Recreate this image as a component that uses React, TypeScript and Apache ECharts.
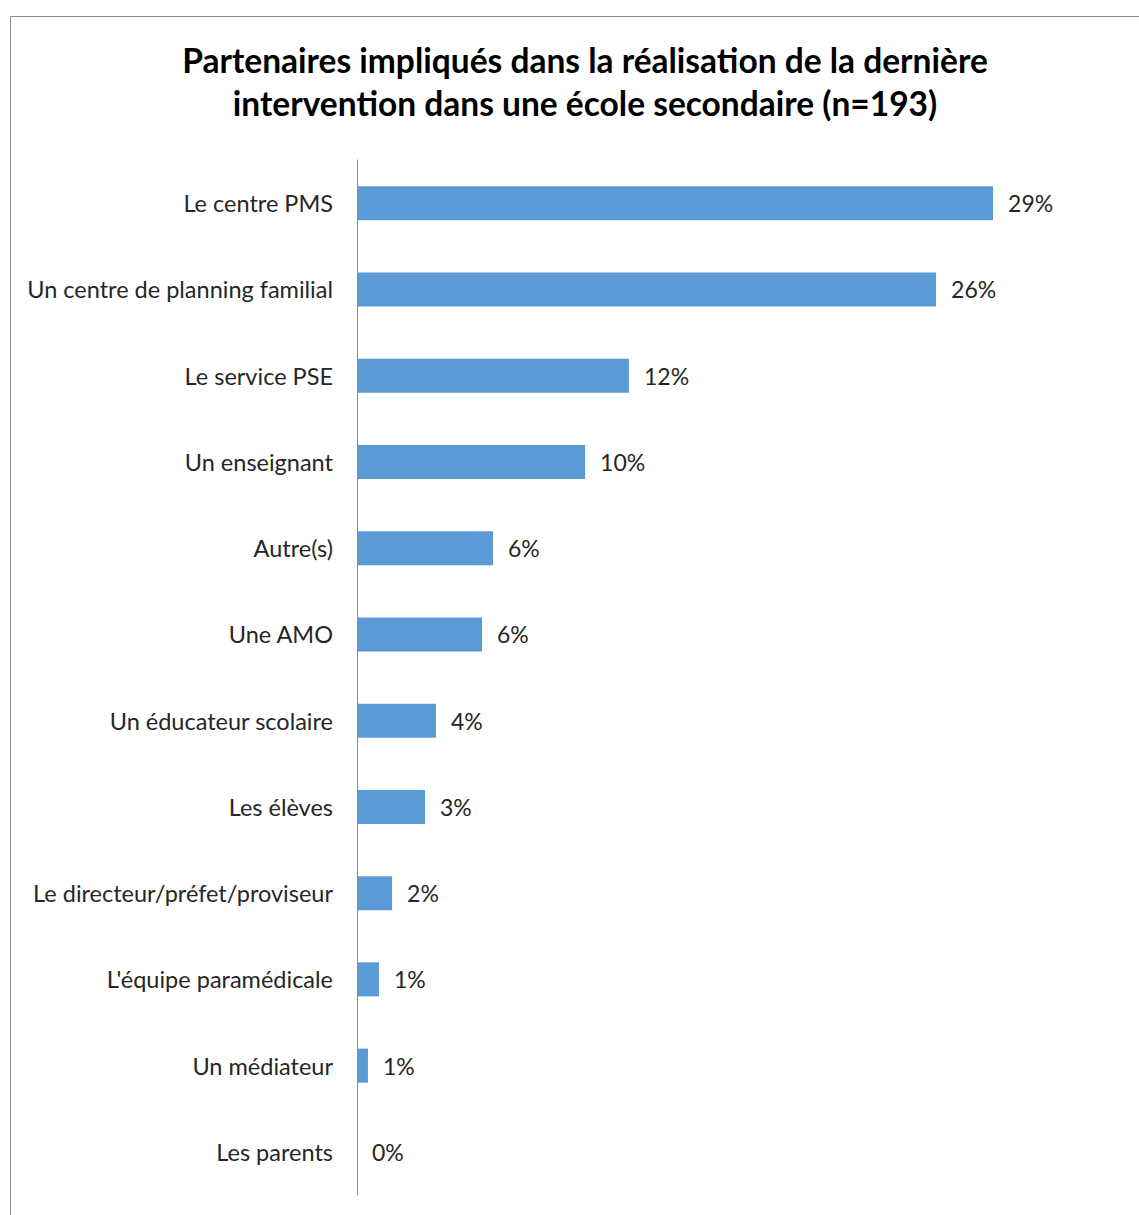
import React, { useEffect, useRef } from "react";
import * as echarts from "echarts";

const TITLE_LINES = [
  "Partenaires impliqués dans la réalisation de la dernière",
  "intervention dans une école secondaire (n=193)",
];

const categories = [
  "Le centre PMS",
  "Un centre de planning familial",
  "Le service PSE",
  "Un enseignant",
  "Autre(s)",
  "Une AMO",
  "Un éducateur scolaire",
  "Les élèves",
  "Le directeur/préfet/proviseur",
  "L'équipe paramédicale",
  "Un médiateur",
  "Les parents",
];

const values = [29.0, 26.4, 12.4, 10.4, 6.2, 5.7, 3.6, 3.1, 1.6, 1.0, 0.5, 0];

const FONT = "Lato, 'Open Sans', sans-serif";

export default function App() {
  const ref = useRef<HTMLDivElement>(null);
  useEffect(() => {
    if (!ref.current) return;
    const chart = echarts.init(ref.current, null, { renderer: "svg" });
    chart.setOption({
      animation: false,
      backgroundColor: "#ffffff",
      title: {
        text: TITLE_LINES.join("\n"),
        left: 580,
        top: 33,
        textAlign: "center",
        textStyle: {
          fontFamily: FONT,
          fontWeight: "bold",
          fontSize: 33.5,
          lineHeight: 43,
          color: "#000000",
        },
      },
      graphic: [
        {
          type: "line",
          shape: { x1: 10.5, y1: 16.5, x2: 1139, y2: 16.5 },
          style: { stroke: "#8c8c8c", lineWidth: 1 },
        },
        {
          type: "line",
          shape: { x1: 10.5, y1: 16.5, x2: 10.5, y2: 1215 },
          style: { stroke: "#8c8c8c", lineWidth: 1 },
        },
      ],
      grid: { left: 357, top: 160, width: 658, height: 1035, containLabel: false },
      xAxis: {
        type: "value",
        min: 0,
        max: 30,
        show: false,
      },
      yAxis: {
        type: "category",
        data: categories,
        inverse: true,
        axisLine: { show: true, lineStyle: { color: "#8c8c8c", width: 1 } },
        axisTick: { show: false },
        axisLabel: {
          margin: 24,
          fontFamily: FONT,
          fontSize: 23.5,
          color: "#262626",
        },
        splitLine: { show: false },
      },
      series: [
        {
          type: "bar",
          data: values,
          barWidth: 34,
          itemStyle: { color: "#5b9bd5" },
          label: {
            show: true,
            position: "right",
            distance: 15,
            fontFamily: FONT,
            fontSize: 23,
            color: "#262626",
            formatter: (p: any) => Math.round(p.value) + "%",
          },
        },
      ],
    });
    return () => chart.dispose();
  }, []);
  return (
    <div
      ref={ref}
      style={{ position: "absolute", left: 0, top: 0, width: 1139, height: 1215 }}
    />
  );
}
